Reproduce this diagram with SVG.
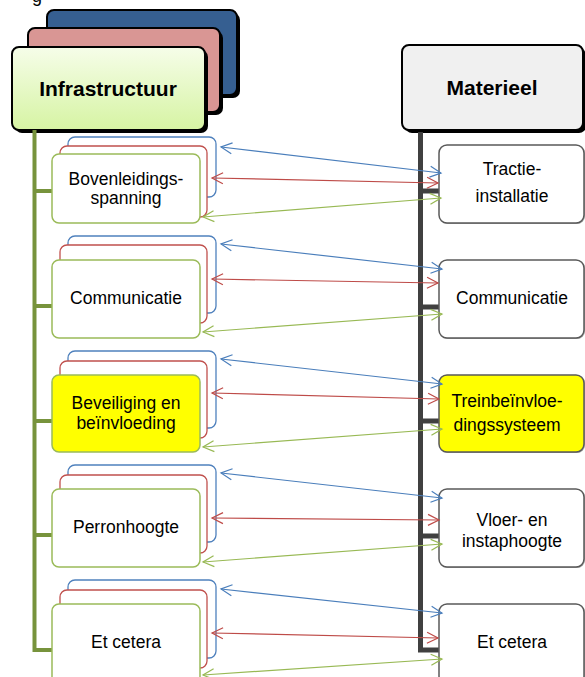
<svg xmlns="http://www.w3.org/2000/svg" width="585" height="677" viewBox="0 0 585 677">
<style>
text{font-family:"Liberation Sans",Arial,sans-serif;fill:#000}
.t{font-size:17.5px;text-anchor:middle}
.h{font-size:21px;font-weight:bold;text-anchor:middle}
.bb{fill:#fff;stroke:#4f81bd;stroke-width:1.3}
.rb{fill:#fff;stroke:#c0504d;stroke-width:1.3}
.gb{fill:#fff;stroke:#9bbb59;stroke-width:1.5}
.rn{fill:#fff;stroke:#595959;stroke-width:1.5}
.sh{fill:#a6a6a6}
.ab{stroke:#4a7ebb;stroke-width:1.2;fill:none;marker-start:url(#mb);marker-end:url(#mb)}
.ar{stroke:#be4b48;stroke-width:1.2;fill:none;marker-start:url(#mr);marker-end:url(#mr)}
.ag{stroke:#98b954;stroke-width:1.2;fill:none;marker-start:url(#mg);marker-end:url(#mg)}
</style>
<defs>
<linearGradient id="gg" x1="0" y1="0" x2="0" y2="1">
<stop offset="0" stop-color="#f6fde9"/>
<stop offset="1" stop-color="#d6f4a3"/>
</linearGradient>
<marker id="mb" viewBox="-13 -7 15 14" refX="0" refY="0" markerWidth="15" markerHeight="14" markerUnits="userSpaceOnUse" orient="auto-start-reverse"><path d="M-11,-5.5 L0,0 L-11,5.5" fill="none" stroke="#4a7ebb" stroke-width="1.2"/></marker>
<marker id="mr" viewBox="-13 -7 15 14" refX="0" refY="0" markerWidth="15" markerHeight="14" markerUnits="userSpaceOnUse" orient="auto-start-reverse"><path d="M-11,-5.5 L0,0 L-11,5.5" fill="none" stroke="#be4b48" stroke-width="1.2"/></marker>
<marker id="mg" viewBox="-13 -7 15 14" refX="0" refY="0" markerWidth="15" markerHeight="14" markerUnits="userSpaceOnUse" orient="auto-start-reverse"><path d="M-11,-5.5 L0,0 L-11,5.5" fill="none" stroke="#98b954" stroke-width="1.2"/></marker>
</defs>
<rect width="585" height="677" fill="#fff"/>
<text x="32" y="2" style="font-size:18px">g</text>

<g id="header-infra">
<rect x="50" y="13" width="190" height="85" rx="7" fill="#000"/>
<rect x="47" y="10" width="190" height="85" rx="7" fill="#365f91" stroke="#000" stroke-width="2"/>
<rect x="31" y="31" width="192" height="84" rx="7" fill="#000"/>
<rect x="28" y="28" width="192" height="84" rx="7" fill="#d99694" stroke="#000" stroke-width="2"/>
<rect x="15" y="50" width="193" height="83" rx="7" fill="#000"/>
<rect x="12" y="47" width="193" height="83" rx="7" fill="url(#gg)" stroke="#000" stroke-width="2"/>
<text class="h" x="108" y="96">Infrastructuur</text>
</g>
<g id="header-materieel">
<rect x="405" y="48" width="181" height="85" rx="7" fill="#000"/>
<rect x="402" y="45" width="181" height="85" rx="7" fill="#f0f0f0" stroke="#000" stroke-width="2"/>
<text class="h" x="492" y="95">Materieel</text>
</g>

<g id="trees">
<path d="M34.5,130 V650 H52 M34.5,191 H52 M34.5,306 H52 M34.5,421 H52 M34.5,535 H52" fill="none" stroke="#77933c" stroke-width="4"/>
<path d="M420.5,132 V650 H440 M420.5,191 H440 M420.5,307 H440 M420.5,421 H440 M420.5,536 H440" fill="none" stroke="#404040" stroke-width="5"/>
</g>

<g id="l1">
<rect class="bb" x="68" y="137" width="148" height="60" rx="7"/>
<rect class="rb" x="60" y="146" width="147" height="71" rx="7"/>
<rect class="gb" x="52" y="154" width="148" height="69" rx="7"/>
<text class="t" x="126" y="185">Bovenleidings-</text>
<text class="t" x="126" y="204">spanning</text>
</g>
<g id="l2">
<rect class="bb" x="68" y="236" width="148" height="77" rx="7"/>
<rect class="rb" x="60" y="245" width="147" height="78" rx="7"/>
<rect class="gb" x="52" y="260" width="148" height="78" rx="7"/>
<text class="t" x="126" y="304">Communicatie</text>
</g>
<g id="l3">
<rect class="bb" x="68" y="351" width="148" height="77" rx="7"/>
<rect class="rb" x="60" y="361" width="147" height="77" rx="7"/>
<rect class="gb" x="52" y="375" width="148" height="77" rx="7" style="fill:#ffff00"/>
<text class="t" x="126" y="409">Beveiliging en</text>
<text class="t" x="126" y="429">beïnvloeding</text>
</g>
<g id="l4">
<rect class="bb" x="68" y="465" width="148" height="77" rx="7"/>
<rect class="rb" x="60" y="475" width="147" height="78" rx="7"/>
<rect class="gb" x="52" y="489" width="148" height="78" rx="7"/>
<text class="t" x="126" y="533">Perronhoogte</text>
</g>
<g id="l5">
<rect class="bb" x="68" y="580" width="148" height="78" rx="7"/>
<rect class="rb" x="60" y="590" width="147" height="78" rx="7"/>
<rect class="gb" x="52" y="604" width="148" height="80" rx="7"/>
<text class="t" x="126" y="648">Et cetera</text>
</g>

<g id="r1">
<rect class="sh" x="440" y="146" width="145" height="78" rx="8"/>
<rect class="rn" x="439" y="145" width="145" height="78" rx="8"/>
<text class="t" x="512" y="175">Tractie-</text>
<text class="t" x="512" y="202">installatie</text>
</g>
<g id="r2">
<rect class="sh" x="440" y="261" width="145" height="78" rx="8"/>
<rect class="rn" x="439" y="260" width="145" height="78" rx="8"/>
<text class="t" x="512" y="304">Communicatie</text>
</g>
<g id="r3">
<rect class="sh" x="440" y="376" width="145" height="77" rx="8"/>
<rect class="rn" x="439" y="375" width="145" height="77" rx="8" style="fill:#ffff00"/>
<text class="t" x="507" y="407">Treinbeïnvloe-</text>
<text class="t" x="507" y="431">dingssysteem</text>
</g>
<g id="r4">
<rect class="sh" x="440" y="490" width="145" height="78" rx="8"/>
<rect class="rn" x="439" y="489" width="145" height="78" rx="8"/>
<text class="t" x="512" y="526">Vloer- en</text>
<text class="t" x="512" y="547">instaphoogte</text>
</g>
<g id="r5">
<rect class="sh" x="440" y="605" width="145" height="80" rx="8"/>
<rect class="rn" x="439" y="604" width="145" height="80" rx="8"/>
<text class="t" x="512" y="648">Et cetera</text>
</g>

<g id="connectors">
<line class="ab" x1="221" y1="147" x2="441" y2="173"/>
<line class="ar" x1="212" y1="178" x2="438" y2="183"/>
<line class="ag" x1="203" y1="217" x2="441" y2="198"/>

<line class="ab" x1="221" y1="244" x2="442" y2="269"/>
<line class="ar" x1="212" y1="279" x2="438" y2="283"/>
<line class="ag" x1="203" y1="332" x2="442" y2="314"/>

<line class="ab" x1="221" y1="359" x2="442" y2="384"/>
<line class="ar" x1="212" y1="393" x2="439" y2="399"/>
<line class="ag" x1="203" y1="447" x2="442" y2="429"/>

<line class="ab" x1="221" y1="473" x2="442" y2="498"/>
<line class="ar" x1="212" y1="518" x2="439" y2="520"/>
<line class="ag" x1="203" y1="562" x2="442" y2="544"/>

<line class="ab" x1="221" y1="589" x2="442" y2="613"/>
<line class="ar" x1="212" y1="633" x2="438" y2="638"/>
<line class="ag" x1="203" y1="675" x2="442" y2="659"/>
</g>
</svg>
